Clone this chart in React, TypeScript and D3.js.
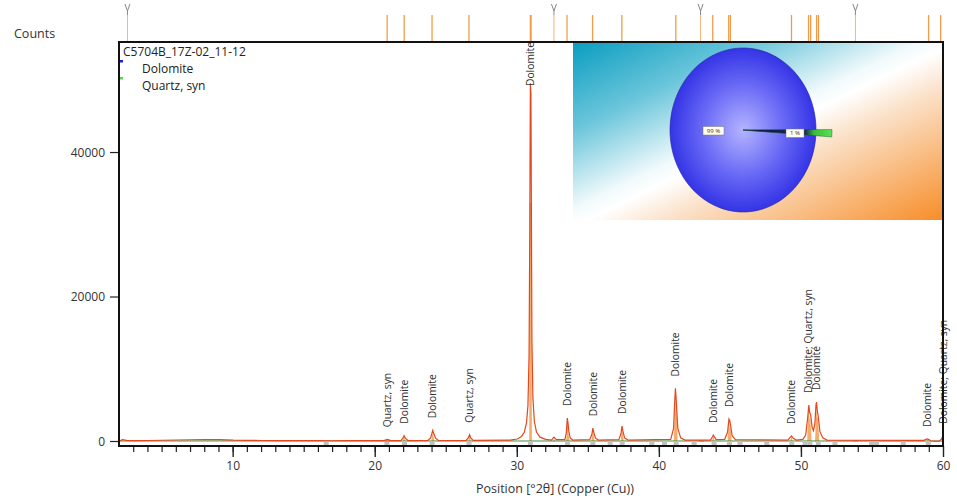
import React, { useEffect, useRef } from "react";
import * as d3 from "d3";

// ---------- DATA ----------
const xTicks = [10, 20, 30, 40, 50, 60];
const yTicks = [0, 20000, 40000];

// observed counts [2θ, counts]
const observed: [number, number][] = [
  [2.0, 60], [2.2, 260], [2.5, 160], [3, 120], [4, 140], [5, 170], [6, 210], [7, 240], [8, 260], [9, 260], [9.5, 230],
  [10, 180], [11, 150], [12, 140], [13, 130], [14, 120], [15, 110], [16, 110], [17, 105], [18, 110], [19, 110], [20, 115],
  [20.6, 120], [20.86, 300], [21.1, 120],
  [21.8, 130], [21.95, 450], [22.03, 800], [22.12, 450], [22.3, 130],
  [23.7, 150], [23.9, 500], [24.0, 1200], [24.05, 1550], [24.12, 1100], [24.25, 450], [24.45, 150],
  [26.4, 140], [26.55, 500], [26.64, 950], [26.72, 500], [26.9, 150],
  [29.5, 180], [30.0, 350], [30.3, 700], [30.5, 1300], [30.65, 2600], [30.75, 5000], [30.83, 12000], [30.88, 30000],
  [30.92, 49600], [30.96, 48000], [31.0, 28000], [31.03, 14000], [31.1, 6000], [31.2, 2800], [31.35, 1300], [31.6, 600], [32.0, 300],
  [32.4, 200], [32.58, 600], [32.75, 250],
  [33.35, 250], [33.45, 1200], [33.52, 3250], [33.58, 2400], [33.62, 1500], [33.72, 500], [33.9, 200],
  [35.1, 250], [35.25, 1000], [35.32, 1850], [35.38, 1300], [35.5, 500], [35.7, 200],
  [37.15, 250], [37.3, 1100], [37.37, 2150], [37.43, 1500], [37.55, 500], [37.8, 200],
  [40.8, 300], [41.0, 1800], [41.08, 5500], [41.13, 7350], [41.18, 6000], [41.22, 4500], [41.3, 1800], [41.5, 500], [41.8, 200],
  [43.6, 200], [43.75, 700], [43.8, 900], [43.88, 600], [44.0, 250],
  [44.6, 300], [44.8, 1300], [44.9, 3100], [44.95, 2900], [45.02, 2200], [45.12, 800], [45.35, 250],
  [49.05, 200], [49.22, 600], [49.3, 760], [49.42, 450], [49.65, 200],
  [50.1, 300], [50.3, 900], [50.45, 3500], [50.52, 5050], [50.58, 4000], [50.65, 3700], [50.75, 2000], [50.85, 1500],
  [50.95, 2500], [51.02, 5000], [51.06, 5470], [51.12, 4200], [51.18, 3500], [51.3, 1400], [51.5, 500], [51.8, 200],
  [58.6, 150], [58.85, 350], [58.95, 300], [59.1, 100], [59.4, 40], [59.7, 80], [59.85, 300], [59.95, 750], [60, 800],
];

// calculated profile (filled)
const calculated: [number, number][] = [
  [2, 0], [20.76, 0], [20.86, 240], [20.96, 0],
  [21.94, 0], [22.03, 720], [22.12, 0],
  [23.95, 0], [24.05, 1450], [24.11, 600], [24.17, 0],
  [26.55, 0], [26.64, 880], [26.73, 0],
  [30.84, 0], [30.88, 33000], [30.99, 33000], [31.03, 0],
  [32.5, 0], [32.58, 420], [32.66, 0],
  [33.44, 0], [33.53, 3050], [33.58, 1700], [33.66, 0],
  [35.23, 0], [35.32, 1750], [35.37, 1000], [35.45, 0],
  [37.28, 0], [37.37, 2050], [37.42, 1200], [37.5, 0],
  [41.02, 0], [41.12, 7100], [41.16, 3900], [41.2, 5600], [41.29, 0],
  [43.7, 0], [43.8, 820], [43.89, 0],
  [44.8, 0], [44.9, 2950], [44.95, 1700], [45.0, 2100], [45.09, 0],
  [49.2, 0], [49.3, 680], [49.4, 0],
  [50.4, 0], [50.5, 4850], [50.56, 2900], [50.62, 3500], [50.72, 0],
  [50.96, 0], [51.05, 5250], [51.1, 3100], [51.16, 3400], [51.26, 0],
  [58.81, 0], [58.9, 320], [58.99, 0],
  [59.88, 0], [59.97, 720], [60, 720],
];

const background: [number, number][] = [[2, 70], [10, 80], [20, 70], [30, 70], [40, 70], [50, 70], [60, 60]];

const grayMarks = [16.55, 20.82, 22.06, 24.0, 26.6, 30.92, 33.54, 35.32, 36.54, 37.38, 39.47, 40.36, 41.18, 42.45, 43.85,
  44.93, 45.68, 47.56, 49.32, 50.26, 50.6, 51.19, 52.36, 54.94, 55.29, 57.17, 58.93];
const smallOrangeMarks = [20.86, 42.95, 53.8];

const refLines = [20.84, 22.04, 24.0, 26.6, 30.92, 30.97, 33.5, 35.3, 37.36, 41.16, 43.76, 44.88, 45.0, 49.3, 50.5, 50.65,
  51.07, 51.2, 58.95, 59.8];
const vMarks = [2.56, 32.58, 42.9, 53.8];

const labelPos = [20.86, 22.03, 24.05, 26.64, 30.94, 33.54, 35.33, 37.38, 41.13, 43.8, 44.92, 49.3, 50.5, 51.06, 58.9, 59.96];
const labelText = ["Quartz, syn", "Dolomite", "Dolomite", "Quartz, syn", "Dolomite", "Dolomite", "Dolomite", "Dolomite",
  "Dolomite", "Dolomite", "Dolomite", "Dolomite", "Dolomite; Quartz, syn", "Dolomite", "Dolomite", "Dolomite; Quartz, syn"];

const legendTitle = "C5704B_17Z-02_11-12";
const phaseNames = ["Dolomite", "Quartz, syn"];
const phaseColors = ["#2020d0", "#50d850"];
const phaseShares = [99, 1];

const W = 957, H = 501;

export default function App() {
  const ref = useRef<SVGSVGElement>(null);

  useEffect(() => {
    const svg = d3.select(ref.current);
    svg.selectAll("*").remove();
    const font = "'Open Sans', 'Noto Sans', sans-serif";

    const left = 119, right = 943, top = 42, bottom = 446;
    const x = d3.scaleLinear().domain([2, 60]).range([119.5, 943.5]);
    const y = d3.scaleLinear().domain([0, 55300]).range([441.5, top]);

    const defs = svg.append("defs");
    defs.append("clipPath").attr("id", "plotclip").append("rect")
      .attr("x", left).attr("y", top).attr("width", right - left).attr("height", bottom - top);

    const ig = defs.append("linearGradient").attr("id", "insetGrad")
      .attr("x1", 0).attr("y1", 0).attr("x2", 1).attr("y2", 1);
    [[0, "#0a9dc0"], [0.25, "#6cc6db"], [0.47, "#f2fafc"], [0.52, "#ffffff"], [0.62, "#fbe3cc"], [1, "#f78d28"]]
      .forEach(([o, c]) => ig.append("stop").attr("offset", o as number).attr("stop-color", c as string));

    const rg = defs.append("radialGradient").attr("id", "pieGrad").attr("cx", 0.5).attr("cy", 0.5).attr("r", 0.5);
    rg.append("stop").attr("offset", 0).attr("stop-color", "#b4b4ff");
    rg.append("stop").attr("offset", 0.55).attr("stop-color", "#6a6af6");
    rg.append("stop").attr("offset", 1).attr("stop-color", "#3434e6");

    // ---------- top reference strip ----------
    const strip = svg.append("g");
    strip.selectAll("line.ref").data(refLines).join("line")
      .attr("x1", (d) => x(d)).attr("x2", (d) => x(d)).attr("y1", 15).attr("y2", top)
      .attr("stroke", "#ef9d4a").attr("stroke-width", 1.3);
    strip.selectAll("line.v").data(vMarks).join("line")
      .attr("x1", (d) => x(d)).attr("x2", (d) => x(d)).attr("y1", 15).attr("y2", top)
      .attr("stroke", "#f2b57a").attr("stroke-width", 1);
    strip.selectAll("path.v").data(vMarks).join("path")
      .attr("d", (d) => `M${x(d) - 2.5},4 L${x(d)},11 L${x(d) + 2.5},4 M${x(d)},11 L${x(d)},15`)
      .attr("fill", "none").attr("stroke", "#888").attr("stroke-width", 1);

    svg.append("text").attr("x", 14).attr("y", 38).text("Counts")
      .attr("font-family", font).attr("font-size", 12.5).attr("fill", "#333");

    // ---------- inset pie ----------
    const inset = svg.append("g");
    inset.append("rect").attr("x", 573).attr("y", top).attr("width", right - 573).attr("height", 220 - top)
      .attr("fill", "url(#insetGrad)");
    const cx = 743, cy = 130, rx = 73, ry = 82;
    const pie = d3.pie<number>().sort(null).startAngle(Math.PI / 2 + (2 * Math.PI) / 100).endAngle(Math.PI / 2 + 2 * Math.PI + (2 * Math.PI) / 100);
    const arcs = pie(phaseShares);
    const pieG = inset.append("g").attr("transform", `translate(${cx},${cy}) scale(1,${ry / rx})`);
    const bigArc = d3.arc<d3.PieArcDatum<number>>().innerRadius(0).outerRadius(rx);
    pieG.append("path").attr("d", bigArc(arcs[0]) as string)
      .attr("fill", "url(#pieGrad)").attr("stroke", "#2828a0").attr("stroke-width", 0.6);
    const sg = defs.append("linearGradient").attr("id", "sliceGrad").attr("gradientUnits", "userSpaceOnUse")
      .attr("x1", 0).attr("y1", 0).attr("x2", 89).attr("y2", 0);
    [[0, "#0a0a3a"], [0.7, "#1a2a60"], [0.8, "#38c038"], [1, "#5ae05a"]]
      .forEach(([o, c]) => sg.append("stop").attr("offset", o as number).attr("stop-color", c as string));
    const smallArc = d3.arc<d3.PieArcDatum<number>>().innerRadius(0).outerRadius(89);
    const sa = { ...arcs[1], startAngle: Math.PI / 2 - 0.005, endAngle: Math.PI / 2 + 0.07 };
    pieG.append("path").attr("d", smallArc(sa) as string)
      .attr("fill", "url(#sliceGrad)").attr("stroke", "#1a5a1a").attr("stroke-width", 0.4);

    const pctBoxes = [
      { t: `${phaseShares[0]} %`, x: 703, y: 126.5, w: 21 },
      { t: `${phaseShares[1]} %`, x: 786, y: 129, w: 18 },
    ];
    pctBoxes.forEach((b) => {
      inset.append("rect").attr("x", b.x).attr("y", b.y).attr("width", b.w).attr("height", 8.5)
        .attr("fill", "#fffef0").attr("stroke", "#777").attr("stroke-width", 0.5);
      inset.append("text").attr("x", b.x + b.w / 2).attr("y", b.y + 6.3).attr("text-anchor", "middle")
        .attr("font-family", font).attr("font-size", 6).attr("fill", "#333").text(b.t);
    });

    // ---------- data ----------
    const plot = svg.append("g").attr("clip-path", "url(#plotclip)");
    plot.append("path").datum(calculated)
      .attr("d", d3.area<[number, number]>().x((d) => x(d[0])).y0(y(0)).y1((d) => y(d[1])))
      .attr("fill", "#f4a35a").attr("opacity", 0.9);
    plot.append("path").datum(background)
      .attr("d", d3.line<[number, number]>().x((d) => x(d[0])).y((d) => y(d[1])))
      .attr("fill", "none").attr("stroke", "#3f8f3f").attr("stroke-width", 1);
    plot.selectAll("rect.gm").data(grayMarks).join("rect")
      .attr("x", (d) => x(d) - 2.5).attr("y", 441).attr("width", 5).attr("height", 4.5).attr("fill", "#c0c0c0");
    plot.selectAll("rect.om").data(smallOrangeMarks).join("rect")
      .attr("x", (d) => x(d) - 2.5).attr("y", 440).attr("width", 5).attr("height", 2).attr("fill", "#f08a40");
    plot.append("path").datum(observed)
      .attr("d", d3.line<[number, number]>().x((d) => x(d[0])).y((d) => y(d[1])))
      .attr("fill", "none").attr("stroke", "#e3471c").attr("stroke-width", 1.2);

    // ---------- peak labels ----------
    const lg = svg.append("g");
    labelPos.forEach((p, i) => {
      const peak = d3.max(observed.filter((d) => Math.abs(d[0] - p) < 0.12), (d) => d[1]) ?? 0;
      const t = lg.append("text").text(labelText[i]).attr("font-family", font).attr("font-size", 10.3)
        .attr("fill", "#333").attr("dy", "0.35em");
      const len = (t.node() as SVGTextElement).getComputedTextLength();
      let b = y(peak) - 12;
      if (b - len < top) b = top + len;
      t.attr("transform", `translate(${x(p)},${b}) rotate(-90)`);
    });

    // ---------- axes ----------
    const xa = svg.append("g").attr("transform", `translate(0,${bottom})`);
    xa.selectAll("line.minor").data(d3.range(3, 60)).join("line")
      .attr("x1", (d) => x(d)).attr("x2", (d) => x(d)).attr("y1", 0).attr("y2", 6)
      .attr("stroke", "#222").attr("stroke-width", 1.2);
    xa.selectAll("line.major").data(xTicks).join("line")
      .attr("x1", (d) => x(d)).attr("x2", (d) => x(d)).attr("y1", 0).attr("y2", 11)
      .attr("stroke", "#222").attr("stroke-width", 1.4);
    xa.selectAll("text").data(xTicks).join("text")
      .attr("x", (d) => x(d)).attr("y", 24).attr("text-anchor", "middle")
      .attr("font-family", font).attr("font-size", 12).attr("fill", "#333").text((d) => String(d));

    const ya = svg.append("g");
    ya.selectAll("line").data(yTicks).join("line")
      .attr("x1", 110).attr("x2", left).attr("y1", (d) => y(d)).attr("y2", (d) => y(d))
      .attr("stroke", "#222").attr("stroke-width", 1.2);
    ya.selectAll("text").data(yTicks).join("text")
      .attr("x", 105).attr("y", (d) => y(d)).attr("dy", "0.35em").attr("text-anchor", "end")
      .attr("font-family", font).attr("font-size", 12).attr("fill", "#333").text((d) => String(d));

    svg.append("text").attr("x", 476).attr("y", 493).text("Position [°2θ] (Copper (Cu))")
      .attr("font-family", font).attr("font-size", 12.5).attr("fill", "#333");

    // frame
    svg.append("path").attr("d", `M${left},${bottom} L${left},${top} L${right},${top} L${right},${bottom}`)
      .attr("fill", "none").attr("stroke", "#111").attr("stroke-width", 2);
    svg.append("line").attr("x1", left - 1).attr("x2", right + 1).attr("y1", bottom).attr("y2", bottom)
      .attr("stroke", "#111").attr("stroke-width", 2.2);

    // legend
    svg.append("text").attr("x", 123).attr("y", 56).text(legendTitle)
      .attr("font-family", font).attr("font-size", 12).attr("fill", "#222");
    phaseNames.forEach((n, i) => {
      svg.append("rect").attr("x", 120).attr("y", 60 + i * 17).attr("width", 3).attr("height", 2.5)
        .attr("fill", phaseColors[i]);
      svg.append("text").attr("x", 142).attr("y", 73 + i * 17).text(n)
        .attr("font-family", font).attr("font-size", 12).attr("fill", "#222");
    });
  }, []);

  return (
    <svg ref={ref} width={W} height={H} style={{ position: "absolute", left: 0, top: 0, background: "#fff" }} />
  );
}
